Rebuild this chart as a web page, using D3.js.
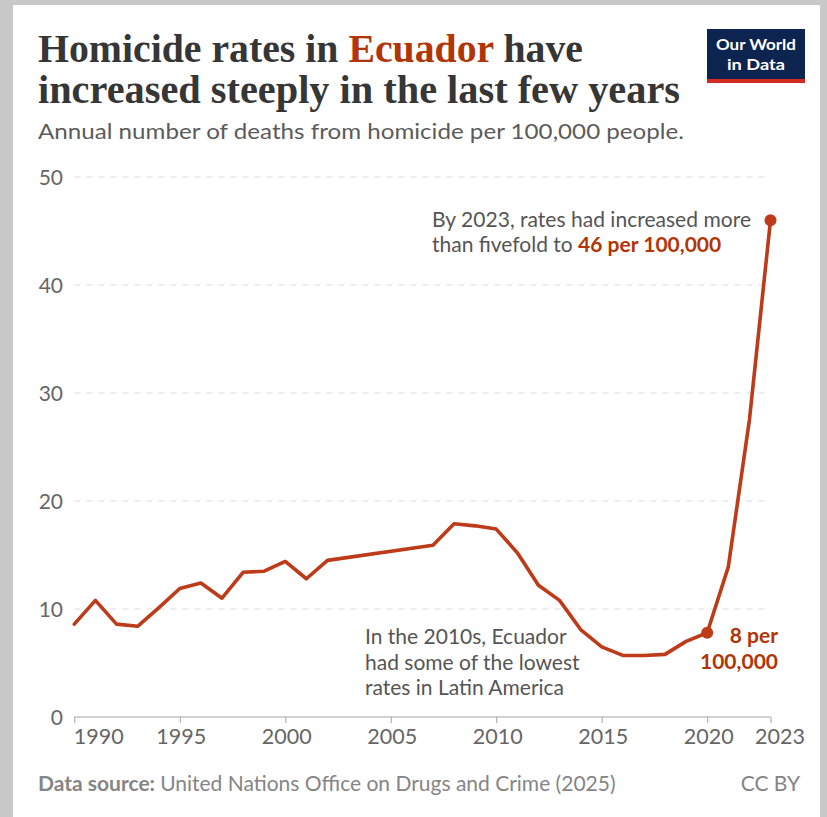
<!DOCTYPE html>
<html>
<head>
<meta charset="utf-8">
<script src="https://cdn.jsdelivr.net/npm/d3@7"></script>
<style>
  html, body { margin: 0; padding: 0; background: #fff; }
  svg { display: block; }
</style>
</head>
<body>
<script>
// ---- data ----
const years = [1990,1991,1992,1993,1994,1995,1996,1997,1998,1999,2000,2001,2002,2007,2008,2009,2010,2011,2012,2013,2014,2015,2016,2017,2018,2019,2020,2021,2022,2023];
const rates = [8.6,10.8,8.6,8.4,10.1,11.9,12.4,11.0,13.4,13.5,14.4,12.8,14.5,15.9,17.9,17.7,17.4,15.2,12.2,10.8,8.1,6.5,5.7,5.7,5.8,7.0,7.8,13.9,27.5,46.0];
const xTicks = [1990,1995,2000,2005,2010,2015,2020,2023];
const yTicks = [0,10,20,30,40,50];
const highlightYears = [2020,2023];

const W = 827, H = 817;
const RED = "#bd3b19";
const SANS = "Lato, 'Open Sans', sans-serif";

const svg = d3.select("body").append("svg").attr("width", W).attr("height", H);

// frame
svg.append("rect").attr("width", W).attr("height", H).attr("fill", "#c8c8c8");
svg.append("rect").attr("x", 13).attr("y", 5).attr("width", 807).attr("height", H - 5).attr("fill", "#ffffff");

// title
const t1 = svg.append("text").attr("x", 38).attr("y", 62)
  .attr("font-family", "'Liberation Serif', 'DejaVu Serif', serif")
  .attr("font-weight", "bold").attr("font-size", 39).attr("fill", "#363636");
t1.append("tspan").text("Homicide rates in ");
t1.append("tspan").attr("fill", "#b13507").text("Ecuador");
t1.append("tspan").text(" have");
t1.attr("textLength", 545).attr("lengthAdjust", "spacingAndGlyphs");

svg.append("text").attr("x", 38).attr("y", 103)
  .attr("font-family", "'Liberation Serif', 'DejaVu Serif', serif")
  .attr("font-weight", "bold").attr("font-size", 39).attr("fill", "#363636")
  .attr("textLength", 642).attr("lengthAdjust", "spacingAndGlyphs")
  .text("increased steeply in the last few years");

// subtitle
svg.append("text").attr("x", 38).attr("y", 139)
  .attr("font-family", SANS).attr("font-size", 21.5).attr("fill", "#5b5b5b")
  .attr("textLength", 646).attr("lengthAdjust", "spacingAndGlyphs")
  .text("Annual number of deaths from homicide per 100,000 people.");

// logo
const logo = svg.append("g");
logo.append("rect").attr("x", 707).attr("y", 29).attr("width", 98).attr("height", 54).attr("fill", "#0d2350");
logo.append("rect").attr("x", 707).attr("y", 79).attr("width", 98).attr("height", 4).attr("fill", "#d42b21");
logo.append("text").attr("x", 756).attr("y", 50).attr("text-anchor", "middle")
  .attr("font-family", SANS).attr("font-weight", "bold").attr("font-size", 16).attr("fill", "#fff")
  .attr("textLength", 80).attr("lengthAdjust", "spacingAndGlyphs").text("Our World");
logo.append("text").attr("x", 756).attr("y", 70).attr("text-anchor", "middle")
  .attr("font-family", SANS).attr("font-weight", "bold").attr("font-size", 16).attr("fill", "#fff")
  .attr("textLength", 58).attr("lengthAdjust", "spacingAndGlyphs").text("in Data");

// scales
const x = d3.scaleLinear().domain([1990, 2023]).range([74.3, 770.5]);
const y = d3.scaleLinear().domain([0, 50]).range([717, 177]);

// gridlines
svg.append("g").selectAll("line").data(yTicks.filter(d => d > 0)).join("line")
  .attr("x1", x(1990)).attr("x2", x(2023))
  .attr("y1", d => y(d)).attr("y2", d => y(d))
  .attr("stroke", "#dcdcdc").attr("stroke-width", 1).attr("stroke-dasharray", "6,6");

// y labels
svg.append("g").selectAll("text").data(yTicks).join("text")
  .attr("x", 63).attr("y", d => y(d)).attr("dy", "0.36em")
  .attr("text-anchor", "end").attr("font-family", SANS).attr("font-size", 21)
  .attr("fill", "#666").text(d => d);

// x axis
const xAxis = d3.axisBottom(x).tickValues(xTicks).tickFormat(d3.format("d")).tickSize(6).tickPadding(6);
const gx = svg.append("g").attr("transform", `translate(0,${y(0)})`).call(xAxis);
gx.select(".domain").attr("stroke", "#a3a3a3").attr("d", `M${x(1990)},0H${x(2023)}`);
gx.selectAll(".tick line").attr("stroke", "#a3a3a3");
gx.selectAll(".tick text").attr("font-family", SANS).attr("font-size", 21.5).attr("fill", "#666")
  .attr("y", 12).attr("dy", "0.71em")
  .attr("text-anchor", d => d === 1990 ? "start" : "middle")
  .attr("dx", d => d === 1990 ? -1 : (d === 2023 ? 9 : 1));

// line
const data = years.map((yr, i) => ({ year: yr, value: rates[i] }));
svg.append("path").datum(data)
  .attr("fill", "none").attr("stroke", RED).attr("stroke-width", 3.6)
  .attr("stroke-linejoin", "round").attr("stroke-linecap", "round")
  .attr("d", d3.line().x(d => x(d.year)).y(d => y(d.value)));

svg.append("g").selectAll("circle").data(data.filter(d => highlightYears.includes(d.year))).join("circle")
  .attr("cx", d => x(d.year)).attr("cy", d => y(d.value)).attr("r", 6).attr("fill", RED);

// annotations
const a1 = svg.append("g").attr("font-family", SANS).attr("font-size", 21).attr("fill", "#555");
a1.append("text").attr("x", 432).attr("y", 227).attr("textLength", 319).attr("lengthAdjust", "spacingAndGlyphs")
  .text("By 2023, rates had increased more");
const a1b = a1.append("text").attr("x", 432).attr("y", 252);
a1b.append("tspan").text("than fivefold to ");
a1b.append("tspan").attr("fill", "#b13507").attr("font-weight", "bold").text("46 per 100,000");

const a2 = svg.append("g").attr("font-family", SANS).attr("font-size", 21).attr("fill", "#555");
["In the 2010s, Ecuador", "had some of the lowest", "rates in Latin America"].forEach((s, i) => {
  a2.append("text").attr("x", 365).attr("y", 644 + i * 25.5).text(s);
});

const a3 = svg.append("g").attr("font-family", SANS).attr("font-size", 21).attr("font-weight", "bold")
  .attr("fill", "#b13507").attr("text-anchor", "end");
a3.append("text").attr("x", 778).attr("y", 643).text("8 per");
a3.append("text").attr("x", 778).attr("y", 668.5).text("100,000");

// footer
const f = svg.append("text").attr("x", 38).attr("y", 791).attr("font-family", SANS).attr("font-size", 21).attr("fill", "#858585");
f.append("tspan").attr("font-weight", "bold").text("Data source: ");
f.append("tspan").text("United Nations Office on Drugs and Crime (2025)");
svg.append("text").attr("x", 800).attr("y", 791).attr("text-anchor", "end")
  .attr("font-family", SANS).attr("font-size", 21).attr("fill", "#858585").text("CC BY");
</script>
</body>
</html>
